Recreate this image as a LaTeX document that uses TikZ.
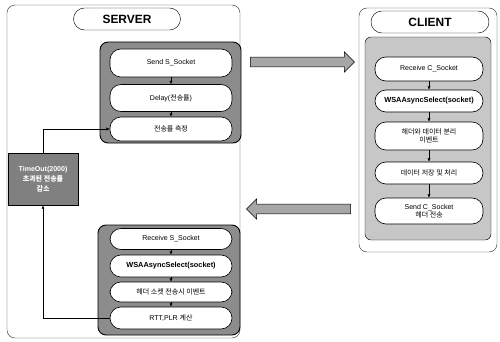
\documentclass[tikz,border=0pt]{standalone}
\usepackage{fontspec}
\setmainfont{Liberation Sans}
\newfontfamily\krfont{Noto Sans CJK KR}
\newcommand{\kr}[1]{{\krfont #1}}
\usetikzlibrary{arrows.meta,shapes.arrows}

\begin{document}
\begin{tikzpicture}[x=0.5mm, y=-0.5mm,
  outerbox/.style={draw=black!80, line width=0.6pt, rounded corners=4mm},
  titlebox/.style={draw, line width=0.6pt, fill=white, rounded corners=5.5mm, minimum width=53.5mm, minimum height=11mm, inner sep=0pt, font=\bfseries\fontsize{17}{17}\selectfont},
  groupbox/.style={draw, line width=1.3pt, rounded corners=4mm, fill=black!45},
  lightgroup/.style={draw, line width=0.6pt, rounded corners=3mm, fill=black!22},
  pill/.style={draw, line width=0.9pt, fill=white, rounded corners=5.5mm, minimum width=61mm, inner sep=0pt, align=center, font=\fontsize{10}{12}\selectfont},
  cpill/.style={pill, minimum width=54mm},
  boldpill/.style={font=\bfseries\fontsize{10.5}{12}\selectfont},
  flow/.style={-{Latex[length=1.6mm,width=1.5mm]}, line width=0.7pt},
  bigarrow/.style={single arrow, draw, line width=0.8pt, fill=black!35, minimum width=10mm, single arrow head indent=0pt, inner sep=2.2mm, minimum height=52mm},
  timebox/.style={draw, line width=1.3pt, fill=black!50, text=white, minimum width=35mm, minimum height=26mm, inner sep=0pt, align=center, font=\bfseries\fontsize{10}{14}\selectfont}
]
\useasboundingbox (0,0) rectangle (500,341);

% server side
\draw[outerbox] (7,5) rectangle (240,338);
\node[titlebox] (server) at (127,19) {SERVER};

\draw[groupbox] (100,42) rectangle (241,143);
\node[pill, minimum height=14mm] (ssend) at (171,63) {Send S\_Socket};
\node[pill, minimum height=13.5mm] (delay) at (171,98) {Delay(\kr{전송률})};
\node[pill, minimum height=12mm] (measure) at (171,129) {\kr{전송률 측정}};
\draw[flow] (ssend) -- (delay);
\draw[flow] (delay) -- (measure);

\draw[groupbox] (98,225) rectangle (240,335);
\node[pill, minimum height=10.5mm] (srecv) at (171,239) {Receive S\_Socket};
\node[pill, boldpill, minimum height=11mm] (sselect) at (171,266) {WSAAsyncSelect(socket)};
\node[pill, minimum height=10mm] (hevent) at (171,292) {\kr{헤더 소켓 전송시 이벤트}};
\node[pill, minimum height=11mm] (rtt) at (171,318) {RTT,PLR \kr{계산}};
\draw[flow] (srecv) -- (sselect);
\draw[flow] (sselect) -- (hevent);
\draw[flow] (hevent) -- (rtt);

% feedback loop
\node[timebox] (timeout) at (43,179) {TimeOut(2000)\\\kr{초과된 전송률}\\\kr{감소}};
\draw[flow] (rtt.west) -| (timeout.south);
\draw[flow] (timeout.north) |- (measure.west);

% client side
\draw[outerbox] (359,8) rectangle (497,252);
\node[titlebox, minimum width=59mm] (client) at (430,22) {CLIENT};

\draw[lightgroup] (365,37) rectangle (491,240);
\node[cpill, minimum height=12mm] (crecv) at (429,69) {Receive C\_Socket};
\node[cpill, boldpill, minimum height=11mm] (cselect) at (429,101) {WSAAsyncSelect(socket)};
\node[cpill, minimum height=14mm] (split) at (429,136) {\kr{헤더와 데이터 분리}\\\kr{이벤트}};
\node[cpill, minimum height=11mm] (store) at (429,173) {\kr{데이터 저장 및 처리}};
\node[cpill, minimum height=13mm] (csend) at (429,211) {Send C\_Socket\\\kr{헤더 전송}};
\draw[flow] (crecv) -- (cselect);
\draw[flow] (cselect) -- (split);
\draw[flow] (split) -- (store);
\draw[flow] (store) -- (csend);

% transfer arrows
\node[bigarrow] (toclient) at (300,62) {};
\node[bigarrow, shape border rotate=180] (toserver) at (301,209) {};
\end{tikzpicture}
\end{document}
